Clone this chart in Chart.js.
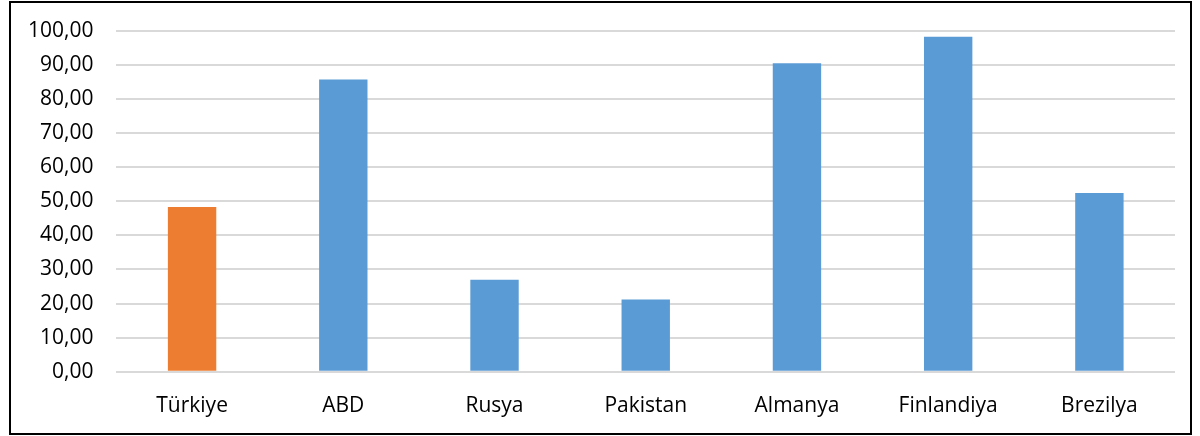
<!DOCTYPE html>
<html>
<head>
<meta charset="utf-8">
<script src="https://cdn.jsdelivr.net/npm/chart.js@4.4.0/dist/chart.umd.min.js"></script>
<style>
  html, body { margin: 0; padding: 0; background: #fff; }
  #box {
    position: absolute; left: 9px; top: 1px;
    width: 1183px; height: 434px;
    border: 2px solid #000; box-sizing: border-box;
  }
  #wrap { position: absolute; left: -6px; top: -8px; right: 0; bottom: 0; }
</style>
</head>
<body>
<div id="box"><div id="wrap"><canvas id="countries"></canvas></div></div>
<script>
// ulke verileri
const countries = ["Türkiye", "ABD", "Rusya", "Pakistan", "Almanya", "Finlandiya", "Brezilya"];
const values = [48.3, 85.7, 27.0, 21.2, 90.4, 98.2, 52.4];
const barColors = ["#ED7D31", "#5B9BD5", "#5B9BD5", "#5B9BD5", "#5B9BD5", "#5B9BD5", "#5B9BD5"];
const yTicks = [0, 10, 20, 30, 40, 50, 60, 70, 80, 90, 100];

const ctx = document.getElementById("countries");

new Chart(ctx, {
  type: "bar",
  data: {
    labels: countries,
    datasets: [{
      data: values,
      backgroundColor: barColors,
      borderWidth: 0,
      barPercentage: 0.32,
      categoryPercentage: 1.0,
    }],
  },
  options: {
    responsive: true,
    maintainAspectRatio: false,
    animation: false,
    layout: { padding: { top: 11, right: 15, left: 0, bottom: 0 } },
    plugins: {
      legend: { display: false },
      tooltip: { enabled: false },
    },
    scales: {
      x: {
        grid: { display: false },
        border: { display: false },
        ticks: {
          color: "#000",
          padding: 14,
          font: { family: "Open Sans", size: 21 },
        },
      },
      y: {
        min: 0,
        max: 100,
        afterBuildTicks: (axis) => { axis.ticks = yTicks.map((v) => ({ value: v })); },
        grid: { color: "#d9d9d9", lineWidth: 2, drawTicks: false },
        border: { display: false },
        ticks: {
          color: "#000",
          padding: 23,
          font: { family: "Open Sans", size: 21 },
          callback: (v) => v.toFixed(2).replace(".", ","),
        },
      },
    },
  },
});
</script>
</body>
</html>
